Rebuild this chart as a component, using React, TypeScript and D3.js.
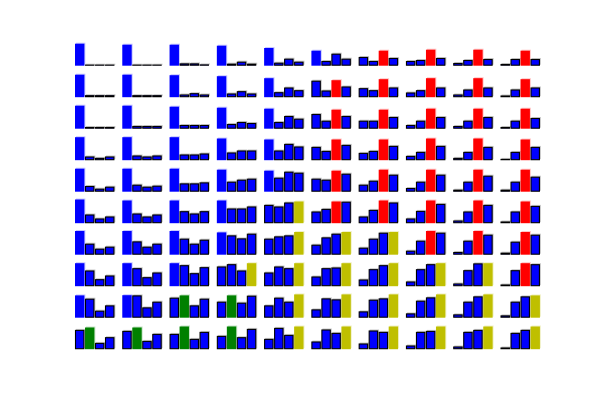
import React from "react";
import * as d3 from "d3";

// q-value style bars: one small chart per grid cell, 4 actions each
const actions = ["a0", "a1", "a2", "a3"];
const actionColors = ["#0000ff", "#008000", "#ff0000", "#bfbf00"];

const action0 = [
  [22, 21, 21, 20, 17.7, 15, 8.7, 4.7, 2.7, 1.7],
  [22.5, 22.5, 22, 21, 19, 16.5, 9, 4.7, 2.7, 1.7],
  [23, 23, 22, 21, 20, 14.7, 8, 3.7, 2.7, 1.7],
  [23, 23, 23, 21.7, 20.7, 13.3, 7.3, 4.3, 2.3, 1.3],
  [23, 23, 23, 22, 21, 13, 7, 3.7, 2, 2],
  [23.7, 22.7, 22.7, 22.7, 18.3, 11.7, 6.7, 4.7, 2.7, 1.7],
  [23.7, 23.7, 23.7, 22.3, 16, 10, 7, 4, 2.7, 2],
  [23, 23, 23, 19.7, 13.7, 9.7, 6.7, 4.7, 2.7, 1.7],
  [22.3, 22.5, 20, 16, 12.3, 8.3, 6.3, 4.3, 3.3, 2.3],
  [19.3, 18.3, 15.3, 13.3, 10.3, 7.7, 5.7, 3.7, 2.7, 1.7],
];

const action1 = [
  [1, 1, 2.3, 2, 3, 4.7, 4.7, 5.7, 5.7, 6.7],
  [2, 2, 2.7, 3.7, 5, 6.7, 7, 7, 7.7, 7.7],
  [1.7, 2.7, 3.7, 4.7, 6.7, 8, 8, 8, 8, 8],
  [3.7, 4.7, 5.7, 7.7, 9.7, 9.3, 9.3, 8.3, 8.3, 8.3],
  [5.7, 7, 8.3, 10, 14, 12, 11, 10, 10, 10],
  [8.7, 9.7, 12, 14.7, 16.7, 14.3, 13.3, 12.3, 11.7, 11.7],
  [11, 13.3, 16, 19.3, 18.3, 17.3, 16, 14, 14, 13],
  [15.7, 18, 21, 22, 19.7, 18, 17, 17, 16, 16],
  [19, 22.3, 22.3, 22.3, 20, 19.3, 18, 17, 16, 16],
  [21.7, 21.7, 22.7, 22.7, 21.3, 19.7, 18.7, 17.3, 17.3, 16.3],
];

const action2 = [
  [1, 1, 2.3, 4, 7, 12, 15, 16, 16, 15],
  [2, 2, 4, 6, 9.7, 17, 18, 19, 19, 18],
  [1.7, 2.7, 3.7, 6.7, 12.7, 19, 19, 20, 20, 20],
  [2.3, 3.7, 5.7, 9.7, 16.3, 20.7, 20.7, 21.7, 21.7, 20.7],
  [3, 5, 8.3, 12, 20, 21, 22, 22, 22, 22],
  [4.7, 6.7, 9.7, 14.7, 20.7, 21.7, 22.7, 22.7, 22.7, 21.7],
  [6, 8, 11, 16.3, 19.3, 21, 22, 23.7, 23.7, 22.7],
  [7, 9, 13, 15.7, 18, 18.7, 21, 22, 22.8, 23],
  [7, 10.3, 12.3, 15, 16, 18.3, 19.3, 20.3, 21.3, 21.3],
  [6.3, 8.3, 10.3, 12, 14.3, 16.3, 17.3, 18.3, 19.3, 19.3],
];

const action3 = [
  [1, 1, 1.3, 2, 4, 7, 7.7, 7.7, 6.7, 6.7],
  [2, 2, 2.7, 3.7, 7, 10.7, 9.7, 9.7, 9.7, 9.7],
  [1.7, 2.7, 3.7, 5.7, 10, 12.7, 11.7, 11.7, 11.7, 10.7],
  [3.7, 4.7, 6.7, 9.7, 13.7, 15.3, 14.3, 14.3, 13.3, 13.3],
  [5, 6, 9.3, 13, 19, 18, 17, 17, 16, 15],
  [6.7, 8.7, 12, 16.7, 21.7, 21.5, 20.7, 19.3, 18.3, 17.3],
  [8, 11, 15, 21, 22.7, 22.7, 22.7, 22, 20, 20],
  [10.7, 13.7, 19, 23, 23, 23, 23, 23, 23, 22],
  [12.3, 16, 19, 22, 23.3, 23.3, 23.3, 23.3, 23.3, 22.3],
  [12, 15.3, 17.3, 20.3, 22.7, 22.7, 22.7, 22.7, 22.7, 22.7],
];

const allActions = [action0, action1, action2, action3];

const nRows = 10;
const nCols = 10;

export default function App() {
  const W = 600;
  const H = 400;
  const cellW = 39.4;
  const cellH = 25;

  const colX = d3.scaleLinear().domain([0, nCols - 1]).range([75, 75 + 47.28 * 9]);
  const rowBase = d3.scaleLinear().domain([0, nRows - 1]).range([65.7, 65.7 + 31.5 * 9]);
  const x = d3.scaleBand<string>().domain(actions).range([0, cellW]).paddingInner(0.06);
  const y = d3.scaleLinear().domain([0, 25]).range([cellH, 0]);

  const cells: { r: number; c: number }[] = [];
  for (let r = 0; r < nRows; r++) for (let c = 0; c < nCols; c++) cells.push({ r, c });

  return (
    <svg width={W} height={H} style={{ position: "absolute", left: 0, top: 0 }}>
      <rect width={W} height={H} fill="#ffffff" />
      {cells.map(({ r, c }) => {
        const vals = allActions.map((a) => a[r][c]);
        const best = d3.maxIndex(vals);
        const tx = colX(c);
        const ty = rowBase(r) - cellH;
        return (
          <g key={`${r}-${c}`} transform={`translate(${tx},${ty})`}>
            {vals.map((v, i) => {
              const bx = x(actions[i]) ?? 0;
              const bw = x.bandwidth();
              const by = y(v);
              const bh = y(0) - y(v);
              const hi = i === best;
              return (
                <g key={i}>
                  {/* soft shadow */}
                  <rect
                    x={bx + 1}
                    y={by - 1}
                    width={bw}
                    height={bh}
                    fill={hi ? actionColors[i] : "#000000"}
                    opacity={0.22}
                  />
                  {hi ? (
                    <rect x={bx} y={by} width={bw} height={bh} fill={actionColors[i]} />
                  ) : (
                    <rect
                      x={bx + 0.5}
                      y={Math.min(by + 0.5, cellH - 0.6)}
                      width={Math.max(bw - 1, 0)}
                      height={Math.max(bh - 1, 0.1)}
                      fill="#0000ff"
                      stroke="#000000"
                      strokeWidth={1.1}
                    />
                  )}
                </g>
              );
            })}
          </g>
        );
      })}
    </svg>
  );
}
